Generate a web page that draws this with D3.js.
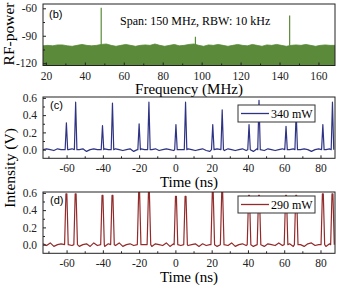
<!DOCTYPE html>
<html>
<head>
<meta charset="utf-8">
<script src="https://cdn.jsdelivr.net/npm/d3@7"></script>
<style>
body { margin: 0; background: #fff; }
svg { display: block; font-family: "Liberation Serif", "Times New Roman", serif; }
.axis path { display: none; }
.axis line { stroke: #222; }
.axis text { font-size: 11.5px; fill: #222; font-family: "Liberation Serif", serif; }
</style>
</head>
<body>
<script>
// (b) RF spectrum
var freqTicks = [20, 40, 60, 80, 100, 120, 140, 160];
var freqMinor = [30, 50, 70, 90, 110, 130, 150];
var powerTicks = [-60, -90, -120];
var powerMinor = [-75, -105];
var noiseStart = 18.5, noiseStep = 2.5;
var noiseTop = [-101, -100.5, -101, -100, -100, -101, -101.5, -100.5, -99.5, -100.5,
                -101, -100.5, -99.5, -99, -100.5, -101.5, -100.5, -99.5, -100.5, -101.5,
                -100.5, -100, -100.5, -99, -100.5, -101.5, -100.5, -99.5, -101, -100.5,
                -99.5, -99, -100.5, -101.5, -100, -100.5, -99.5, -100.5, -101.5, -100.5,
                -99.5, -100.5, -101, -99.5, -100.5, -101.5, -100, -100.5, -99.5, -100.5,
                -101.5, -100.5, -100, -100.5, -99.5, -100.5, -101.5, -100.5, -100, -100.5, -100.5];
var rfPeakFreq = [48.4, 96.8, 145.2];
var rfPeakPower = [-59.5, -91, -68];

// (c), (d) time traces
var timeTicks = [-60, -40, -20, 0, 20, 40, 60, 80];
var timeMinor = [-70, -50, -30, -10, 10, 30, 50, 70];
var voltTicks = [0.0, 0.2, 0.4, 0.6];
var voltMinor = [0.1, 0.3, 0.5];
var baseStart = -73, baseStep = 2;
var baseC = [0.00, 0.01, 0.00, -0.01, 0.01, 0.00, -0.01, 0.00, 0.01, -0.01,
             0.00, 0.01, -0.02, 0.00, 0.01, 0.00, -0.01, 0.01, 0.00, -0.01,
             0.01, 0.00, -0.01, 0.00, 0.01, -0.02, 0.00, 0.01, 0.00, -0.01,
             0.00, 0.01, -0.01, 0.00, 0.01, 0.00, -0.01, 0.01, 0.00, -0.01,
             0.01, 0.00, -0.01, 0.00, 0.01, -0.01, -0.02, 0.00, 0.01, 0.00,
             -0.01, 0.01, 0.00, -0.01, 0.00, 0.01, -0.01, 0.00, -0.02, 0.01,
             0.00, -0.01, 0.01, 0.00, -0.01, 0.00, 0.01, -0.01, 0.00, 0.01,
             -0.01, 0.00, 0.01, 0.00, -0.02, 0.00, 0.01, -0.01, 0.00, 0.01, 0.00];
var peakTimeC = [-60.1, -55.0, -40.2, -34.7, -20.0, -14.6, 0.3, 5.6, 20.6, 25.8, 40.6, 46.1, 61.0, 66.6, 81.3, 86.6];
var peakVoltC = [0.31, 0.55, 0.28, 0.54, 0.30, 0.55, 0.29, 0.55, 0.29, 0.46, 0.29, 0.57, 0.27, 0.44, 0.29, 0.55];
var baseD = [0.01, -0.01, 0.02, -0.02, 0.00, 0.01, -0.02, 0.01, -0.01, 0.02,
             -0.02, 0.00, 0.01, -0.02, 0.02, -0.01, 0.00, -0.02, 0.01, 0.00,
             -0.01, 0.02, -0.02, 0.00, 0.01, -0.01, 0.02, -0.02, 0.00, 0.01,
             -0.02, 0.01, 0.00, -0.01, 0.02, -0.02, 0.01, 0.00, -0.01, 0.02,
             -0.01, 0.00, 0.01, -0.02, 0.01, -0.01, 0.00, 0.02, -0.02, 0.01,
             0.00, -0.01, 0.02, -0.02, 0.00, 0.01, -0.01, 0.02, -0.02, 0.00,
             0.01, -0.02, 0.01, 0.00, -0.01, 0.02, -0.01, 0.00, 0.01, -0.02,
             0.01, 0.00, -0.02, 0.01, 0.02, -0.01, 0.00, 0.01, -0.02, 0.01, 0.00];
var peakTimeD = [-60.1, -55.0, -40.2, -34.7, -20.0, -14.6, 0.3, 5.6, 20.6, 25.8, 40.6, 46.1, 61.0, 66.6, 81.3, 86.6];
var peakVoltD = [0.59, 0.59, 0.57, 0.57, 0.61, 0.61, 0.56, 0.56, 0.61, 0.61, 0.57, 0.57, 0.57, 0.57, 0.59, 0.59];

var left = 43, right = 335;

var svg = d3.select("body").append("svg")
    .attr("width", 340)
    .attr("height", 290);

function drawAxes(x, y, top, bottom, xMaj, xMin, yMaj, yMin, yFmt) {
  svg.append("g").attr("class", "axis")
      .attr("transform", "translate(0," + bottom + ")")
      .call(d3.axisBottom(x).tickValues(xMaj).tickSizeInner(-3).tickSizeOuter(0).tickPadding(6).tickFormat(String));
  svg.append("g").attr("class", "axis")
      .attr("transform", "translate(0," + bottom + ")")
      .call(d3.axisBottom(x).tickValues(xMin).tickSizeInner(-2).tickSizeOuter(0).tickFormat(""));
  svg.append("g").attr("class", "axis")
      .attr("transform", "translate(" + left + ",0)")
      .call(d3.axisLeft(y).tickValues(yMaj).tickSizeInner(-3).tickSizeOuter(0).tickPadding(6).tickFormat(yFmt));
  svg.append("g").attr("class", "axis")
      .attr("transform", "translate(" + left + ",0)")
      .call(d3.axisLeft(y).tickValues(yMin).tickSizeInner(-2).tickSizeOuter(0).tickFormat(""));
  svg.append("rect")
      .attr("x", left).attr("y", top)
      .attr("width", right - left).attr("height", bottom - top)
      .attr("fill", "none").attr("stroke", "#222").attr("stroke-width", 1);
}

function clipFor(id, top, bottom) {
  svg.append("clipPath").attr("id", id)
    .append("rect").attr("x", left).attr("y", top)
      .attr("width", right - left).attr("height", bottom - top);
  return "url(#" + id + ")";
}

//----- panel (b)
var bTop = 4, bBottom = 65.5;
var xb = d3.scaleLinear().domain([18.5, 168.5]).range([left, right]);
var yb = d3.scaleLinear().domain([-122.5, -55.3]).range([bBottom, bTop]);
var green = "#5b8a3a";

var gb = svg.append("g").attr("clip-path", clipFor("clipb", bTop, bBottom));
gb.append("path")
    .datum(noiseTop)
    .attr("fill", green)
    .attr("stroke", green)
    .attr("stroke-width", 0.8)
    .attr("d", d3.area()
        .x(function(d, i) { return xb(noiseStart + i * noiseStep); })
        .y0(bBottom)
        .y1(function(d) { return yb(d); }));
gb.selectAll("line.peak")
    .data(rfPeakFreq)
  .enter().append("line")
    .attr("class", "peak")
    .attr("x1", function(d) { return xb(d); })
    .attr("x2", function(d) { return xb(d); })
    .attr("y1", yb(-101))
    .attr("y2", function(d, i) { return yb(rfPeakPower[i]); })
    .attr("stroke", green)
    .attr("stroke-width", 1.2);

drawAxes(xb, yb, bTop, bBottom, freqTicks, freqMinor, powerTicks, powerMinor, String);

svg.append("text").attr("x", 49).attr("y", 18)
    .style("font-family", "'Liberation Sans', Arial, sans-serif").style("font-size", "11px")
    .text("(b)");
svg.append("text").attr("x", 120).attr("y", 25)
    .style("font-size", "12px")
    .text("Span: 150 MHz, RBW: 10 kHz");
svg.append("text")
    .attr("transform", "translate(13.5,34) rotate(-90)")
    .style("text-anchor", "middle").style("font-size", "15.5px")
    .text("RF-power");
svg.append("text").attr("x", (left + right) / 2).attr("y", 94)
    .style("text-anchor", "middle").style("font-size", "15px")
    .text("Frequency (MHz)");

//----- panels (c), (d)
function buildTrace(base, peakT, peakV, halfW, flat) {
  var pts = [];
  base.forEach(function(v, i) {
    var t = baseStart + i * baseStep;
    var near = d3.min(peakT, function(p) { return Math.abs(p - t); });
    if (near > halfW + 0.2) pts.push([t, v]);
  });
  peakT.forEach(function(t, i) {
    pts.push([t - halfW, 0]);
    if (flat) {
      pts.push([t - flat, peakV[i]]);
      pts.push([t + flat, peakV[i]]);
    } else {
      pts.push([t, peakV[i]]);
    }
    pts.push([t + halfW, 0]);
  });
  pts.sort(function(a, b) { return a[0] - b[0]; });
  return pts;
}

function timePanel(id, top, bottom, trace, color, label, legendText, leg) {
  var x = d3.scaleLinear().domain([-73, 88]).range([left, right]);
  var y = d3.scaleLinear().domain([-0.1, 0.61]).range([bottom, top]);

  svg.append("g").attr("clip-path", clipFor(id, top, bottom))
    .append("path")
      .datum(trace)
      .attr("fill", "none")
      .attr("stroke", color)
      .attr("stroke-width", 1.2)
      .attr("stroke-linejoin", "round")
      .attr("d", d3.line()
          .x(function(d) { return x(d[0]); })
          .y(function(d) { return y(d[1]); }));

  drawAxes(x, y, top, bottom, timeTicks, timeMinor, voltTicks, voltMinor, d3.format(".1f"));

  svg.append("text").attr("x", 50).attr("y", label.y)
      .style("font-family", "'Liberation Sans', Arial, sans-serif").style("font-size", "11px")
      .text(label.text);

  // legend
  svg.append("rect")
      .attr("x", leg.x).attr("y", leg.y).attr("width", 77).attr("height", 17)
      .attr("fill", "#fff").attr("stroke", "#333").attr("stroke-width", 1);
  svg.append("line")
      .attr("x1", leg.x + 3).attr("x2", leg.x + 31)
      .attr("y1", leg.y + 8.5).attr("y2", leg.y + 8.5)
      .attr("stroke", color).attr("stroke-width", 1.3);
  svg.append("text").attr("x", leg.x + 33).attr("y", leg.y + 12.5)
      .style("font-size", "12px")
      .text(legendText);

  svg.append("text").attr("x", (left + right) / 2).attr("y", bottom + 29)
      .style("text-anchor", "middle").style("font-size", "15px")
      .text("Time (ns)");
}

timePanel("clipc", 97, 158.3, buildTrace(baseC, peakTimeC, peakVoltC, 0.7, 0),
    "#2e3383", {x: 0, y: 109, text: "(c)"}, "340 mW", {x: 238, y: 105});
timePanel("clipd", 192, 253.3, buildTrace(baseD, peakTimeD, peakVoltD, 1.0, 0.25),
    "#922b2b", {x: 0, y: 204, text: "(d)"}, "290 mW", {x: 238, y: 196});

svg.append("text")
    .attr("transform", "translate(14.5,168) rotate(-90)")
    .style("text-anchor", "middle").style("font-size", "15.5px")
    .text("Intensity (V)");
</script>
</body>
</html>
